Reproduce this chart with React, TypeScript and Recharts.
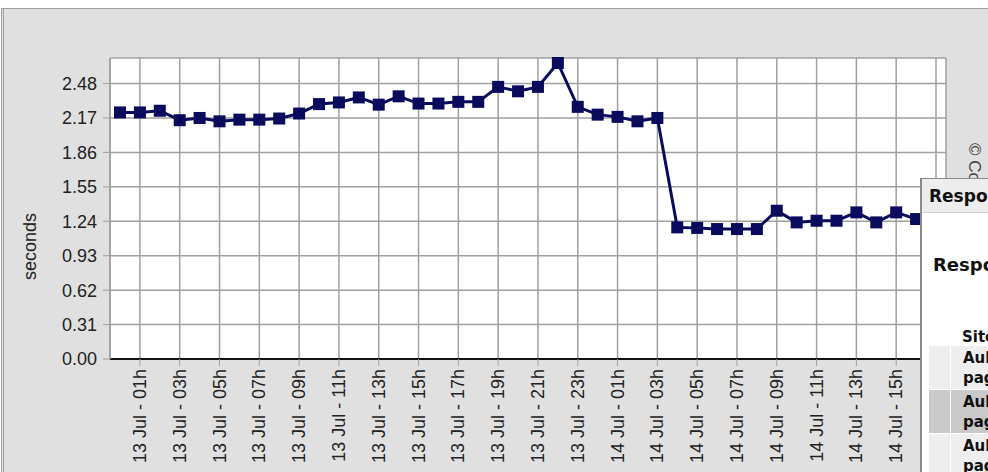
import { LineChart, Line, XAxis, YAxis, CartesianGrid, Label } from 'recharts';

const hours = [
  '13 Jul - 00h', '13 Jul - 01h', '13 Jul - 02h', '13 Jul - 03h', '13 Jul - 04h', '13 Jul - 05h',
  '13 Jul - 06h', '13 Jul - 07h', '13 Jul - 08h', '13 Jul - 09h', '13 Jul - 10h', '13 Jul - 11h',
  '13 Jul - 12h', '13 Jul - 13h', '13 Jul - 14h', '13 Jul - 15h', '13 Jul - 16h', '13 Jul - 17h',
  '13 Jul - 18h', '13 Jul - 19h', '13 Jul - 20h', '13 Jul - 21h', '13 Jul - 22h', '13 Jul - 23h',
  '14 Jul - 00h', '14 Jul - 01h', '14 Jul - 02h', '14 Jul - 03h', '14 Jul - 04h', '14 Jul - 05h',
  '14 Jul - 06h', '14 Jul - 07h', '14 Jul - 08h', '14 Jul - 09h', '14 Jul - 10h', '14 Jul - 11h',
  '14 Jul - 12h', '14 Jul - 13h', '14 Jul - 14h', '14 Jul - 15h', '14 Jul - 16h', '14 Jul - 17h',
];

const seconds = [
  2.22, 2.22, 2.235, 2.15, 2.17, 2.14, 2.155, 2.155, 2.165, 2.21, 2.295, 2.31,
  2.355, 2.29, 2.365, 2.3, 2.3, 2.315, 2.315, 2.45, 2.41, 2.45, 2.665, 2.27,
  2.2, 2.18, 2.14, 2.17, 1.185, 1.18, 1.17, 1.17, 1.17, 1.335, 1.23, 1.245,
  1.245, 1.32, 1.23, 1.32, 1.26, 1.26,
];

const xTicks = [
  '13 Jul - 01h', '13 Jul - 03h', '13 Jul - 05h', '13 Jul - 07h', '13 Jul - 09h', '13 Jul - 11h',
  '13 Jul - 13h', '13 Jul - 15h', '13 Jul - 17h', '13 Jul - 19h', '13 Jul - 21h', '13 Jul - 23h',
  '14 Jul - 01h', '14 Jul - 03h', '14 Jul - 05h', '14 Jul - 07h', '14 Jul - 09h', '14 Jul - 11h',
  '14 Jul - 13h', '14 Jul - 15h', '14 Jul - 17h',
];

const yTicks = [0, 0.31, 0.62, 0.93, 1.24, 1.55, 1.86, 2.17, 2.48];

const FONT = '"Liberation Sans", Arial, sans-serif';
const NAVY = '#0b0b5e';
const GRID = '#a0a0a0';

const data = hours.map((label, i) => ({ label, value: seconds[i] }));

const XTick = ({ x, y, payload }: any) => (
  <text
    x={x}
    y={y}
    transform={`rotate(-90, ${x}, ${y})`}
    textAnchor="end"
    dominantBaseline="central"
    fontSize={18}
    fontFamily={FONT}
    fill="#222"
  >
    {payload.value}
  </text>
);

const SquareDot = ({ cx, cy, index }: any) => (
  <rect key={`dot-${index}`} x={cx - 6} y={cy - 6} width={12} height={12} fill={NAVY} />
);

export default function App() {
  return (
    <div style={{ position: 'fixed', left: 0, top: 0, width: 988, height: 472, overflow: 'hidden', background: '#fff' }}>
      <div
        style={{
          position: 'absolute', left: 1, top: 8, width: 1000, height: 480,
          background: '#e0e0e0', borderLeft: '3px double #a0a0a0', borderTop: '1px solid #a0a0a0',
        }}
      />
      <div style={{ position: 'absolute', left: 0, top: 0 }}>
        <LineChart width={988} height={472} data={data} margin={{ top: 58, right: 42, left: 0, bottom: 0 }}>
          <CartesianGrid stroke={GRID} strokeWidth={1.5} fill="#fff" fillOpacity={1} />
          <XAxis
            dataKey="label"
            ticks={xTicks}
            interval={0}
            height={113}
            padding={{ left: 10, right: 10 }}
            tickSize={7}
            tickMargin={3}
            tick={<XTick />}
            axisLine={{ stroke: '#111', strokeWidth: 2 }}
            tickLine={{ stroke: GRID }}
          />
          <XAxis xAxisId="top" orientation="top" dataKey="label" height={0} tick={false} tickLine={false} axisLine={{ stroke: GRID, strokeWidth: 1.5 }} />
          <YAxis
            width={110}
            domain={[0, 2.71]}
            ticks={yTicks}
            tickFormatter={(v: number) => v.toFixed(2)}
            tickSize={7}
            tickMargin={6}
            tick={{ fontSize: 18, fontFamily: FONT, fill: '#222' }}
            axisLine={{ stroke: GRID, strokeWidth: 1.5 }}
            tickLine={{ stroke: GRID }}
          >
            <Label
              content={({ viewBox }: any) => {
                const cx = 30;
                const cy = viewBox.y + viewBox.height / 2 + 38;
                return (
                  <text
                    x={cx}
                    y={cy}
                    transform={`rotate(-90, ${cx}, ${cy})`}
                    textAnchor="middle"
                    dominantBaseline="central"
                    fontSize={18}
                    fontFamily={FONT}
                    fill="#222"
                  >
                    seconds
                  </text>
                );
              }}
            />
          </YAxis>
          <YAxis yAxisId="right" orientation="right" width={0} tick={false} tickLine={false} axisLine={{ stroke: GRID, strokeWidth: 1.5 }} />
          <Line
            type="linear"
            dataKey="value"
            stroke={NAVY}
            strokeWidth={3}
            dot={<SquareDot />}
            activeDot={false}
            isAnimationActive={false}
          />
        </LineChart>
      </div>
      <div
        style={{
          position: 'absolute', left: 984, top: 143, transform: 'rotate(90deg)', transformOrigin: 'left top',
          fontFamily: FONT, fontSize: 17, color: '#444', whiteSpace: 'nowrap',
        }}
      >
        © Copyright
      </div>
      <div
        style={{
          position: 'absolute', left: 920, top: 178, width: 400, height: 400, background: '#fff',
          borderLeft: '2px solid #8a8a8a', borderTop: '1px solid #8a8a8a',
          fontFamily: '"DejaVu Sans", Verdana, sans-serif', fontWeight: 'bold', color: '#111',
        }}
      >
        <div style={{ height: 33, background: '#ededed', borderBottom: '1px solid #cfcfcf', fontSize: 17, lineHeight: '34px', paddingLeft: 7, whiteSpace: 'nowrap' }}>
          Response time
        </div>
        <div style={{ position: 'absolute', left: 11, top: 75, fontSize: 18, whiteSpace: 'nowrap' }}>Response time</div>
        <div style={{ position: 'absolute', left: 40, top: 149, fontSize: 15, whiteSpace: 'nowrap' }}>Site</div>
        {[
          { top: 167, bg: '#eeeeee', h: 43 },
          { top: 211, bg: '#c9c9c9', h: 43 },
          { top: 255, bg: '#eeeeee', h: 43 },
        ].map((r, i) => (
          <div key={i} style={{ position: 'absolute', left: 7, top: r.top, width: 400, height: r.h, display: 'flex' }}>
            <div style={{ width: 21, background: r.bg, marginRight: 1 }} />
            <div style={{ flex: 1, background: r.bg, fontSize: 15, lineHeight: '20px', paddingLeft: 12, paddingTop: 2 }}>
              Aula
              <br />
              page
            </div>
          </div>
        ))}
      </div>
    </div>
  );
}
